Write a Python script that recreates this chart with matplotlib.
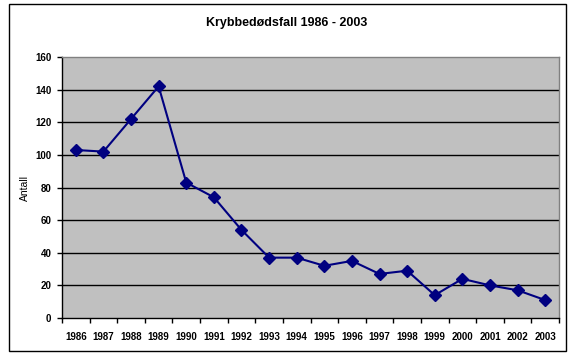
import matplotlib
matplotlib.use("Agg")
import matplotlib.pyplot as plt
from matplotlib.patches import Rectangle
from matplotlib.ticker import FixedLocator

years = ["1986", "1987", "1988", "1989", "1990", "1991", "1992", "1993", "1994",
         "1995", "1996", "1997", "1998", "1999", "2000", "2001", "2002", "2003"]
values = [103, 102, 122, 142, 83, 74, 54, 37, 37, 32, 35, 27, 29, 14, 24, 20, 17, 11]
yticks = [0, 20, 40, 60, 80, 100, 120, 140, 160]
title = "Krybbedødsfall 1986 - 2003"
ylabel = "Antall"

plt.rcParams['font.family'] = ['Liberation Sans', 'DejaVu Sans']

W, H = 576, 358
fig = plt.figure(figsize=(W / 100, H / 100), dpi=100)
fig.patch.set_facecolor("white")

# outer chart border
fig.patches.append(Rectangle((9 / W, 1 - 351 / H), (566 - 9) / W, (351 - 4) / H,
                             transform=fig.transFigure, fill=False,
                             edgecolor="black", linewidth=1.0))

ax = fig.add_axes([62 / W, 1 - 318 / H, (559 - 62) / W, (318 - 57) / H])
ax.set_facecolor("#C0C0C0")

x = list(range(len(years)))
ax.plot(x, values, color="#000080", linewidth=1.5, marker="D", markersize=6,
        markerfacecolor="#000080", markeredgecolor="#000080", zorder=3)

ax.set_xlim(-0.5, len(years) - 0.5)
ax.set_ylim(0, 160)
ax.set_yticks(yticks)
ax.set_yticklabels([str(v) for v in yticks])
for v in yticks[1:-1]:
    ax.axhline(v, color="black", linewidth=1.0, zorder=1)

ax.set_xticks(x)
ax.set_xticklabels(years)
ax.xaxis.set_minor_locator(FixedLocator([i - 0.5 for i in range(len(years) + 1)]))
ax.tick_params(axis="x", which="major", length=0, pad=10)
ax.tick_params(axis="x", which="minor", length=3.6, width=1, color="black", direction="out")
ax.tick_params(axis="y", length=3.6, width=1, color="black", direction="out", pad=4)
for lab in ax.get_xticklabels() + ax.get_yticklabels():
    lab.set_fontweight("bold")
    lab.set_fontsize(7)

ax.spines["left"].set_color("black")
ax.spines["bottom"].set_color("black")
ax.spines["top"].set_color("#808080")
ax.spines["right"].set_color("#808080")
for s in ax.spines.values():
    s.set_linewidth(1.0)

fig.text(287 / W, 1 - 23 / H, title, ha="center", va="center",
         fontsize=9, fontweight="bold")
fig.text(25 / W, 1 - 188 / H, ylabel, ha="center", va="center",
         rotation=90, fontsize=7.5)

fig.savefig("out.png", dpi=100)
